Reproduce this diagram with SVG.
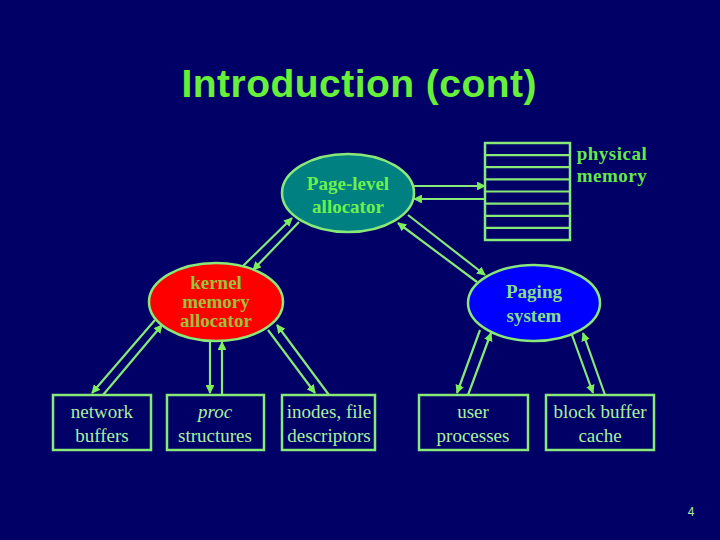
<svg xmlns="http://www.w3.org/2000/svg" width="720" height="540" viewBox="0 0 720 540">
<defs>
<marker id="ah" viewBox="0 0 10 10" refX="9" refY="5" markerWidth="4" markerHeight="4" orient="auto" markerUnits="strokeWidth">
<path d="M0,0 L10,5 L0,10 z" fill="#7CF05C"/>
</marker>
</defs>
<style>
.ln{stroke:#88E878;stroke-width:2.2;fill:none;marker-end:url(#ah)}
.ln0{stroke:#88E878;stroke-width:2.2;fill:none}
.box{fill:none;stroke:#88E878;stroke-width:2.5}
.bt{font-family:"Liberation Serif",serif;font-size:19px;fill:#A8F0A0;text-anchor:middle}
.et{font-family:"Liberation Serif",serif;font-size:19px;font-weight:bold;text-anchor:middle}
</style>
<rect width="720" height="540" fill="#000066"/>
<text x="359" y="97" font-family="Liberation Sans,Arial,sans-serif" font-size="39" font-weight="bold" fill="#66F03A" text-anchor="middle" textLength="355">Introduction (cont)</text>

<g id="connectors">
<line class="ln" x1="414" y1="186" x2="485" y2="186"/>
<line class="ln" x1="485" y1="199" x2="414" y2="199"/>
<line class="ln" x1="243" y1="266" x2="292" y2="218"/>
<line class="ln" x1="299" y1="222" x2="253" y2="270"/>
<line class="ln" x1="408" y1="215" x2="485" y2="275"/>
<line class="ln" x1="477" y1="282" x2="398" y2="223"/>
<line class="ln" x1="103" y1="395" x2="162" y2="325"/>
<line class="ln" x1="155" y1="320" x2="92" y2="393"/>
<line class="ln" x1="210" y1="341" x2="210" y2="393"/>
<line class="ln" x1="222" y1="395" x2="222" y2="342"/>
<line class="ln" x1="268" y1="330" x2="315" y2="393"/>
<line class="ln" x1="329" y1="395" x2="277" y2="325"/>
<line class="ln" x1="480" y1="330" x2="457" y2="393"/>
<line class="ln" x1="468" y1="395" x2="491" y2="333"/>
<line class="ln" x1="572" y1="335" x2="593" y2="393"/>
<line class="ln" x1="605" y1="395" x2="583" y2="333"/>
</g>

<g id="physical-memory">
<rect class="box" x="485" y="143" width="85" height="97"/>
<path class="ln0" d="M485,155.1H570M485,167.2H570M485,179.4H570M485,191.5H570M485,203.6H570M485,215.8H570M485,227.9H570"/>
<text class="et" x="612" y="160" fill="#66E84A" letter-spacing="0.5">physical</text>
<text class="et" x="612" y="182" fill="#66E84A" letter-spacing="0.5">memory</text>
</g>

<g id="page-level">
<ellipse cx="348" cy="193" rx="66" ry="39" fill="#008080" stroke="#88E878" stroke-width="2.5"/>
<text class="et" x="348" y="190" fill="#6CF050">Page-level</text>
<text class="et" x="348" y="213" fill="#6CF050">allocator</text>
</g>

<g id="kernel">
<ellipse cx="216" cy="302" rx="67" ry="39" fill="#FF0000" stroke="#88E878" stroke-width="2.5"/>
<text class="et" x="216" y="289" fill="#9CC23A">kernel</text>
<text class="et" x="216" y="308" fill="#9CC23A">memory</text>
<text class="et" x="216" y="327" fill="#9CC23A">allocator</text>
</g>

<g id="paging">
<ellipse cx="534" cy="303" rx="66" ry="38" fill="#0000FF" stroke="#88E878" stroke-width="2.5"/>
<text class="et" x="534" y="298" fill="#88DD88">Paging</text>
<text class="et" x="534" y="322" fill="#88DD88">system</text>
</g>

<g id="network-buffers">
<rect class="box" x="53" y="395" width="98" height="55"/>
<text class="bt" x="102" y="418">network</text>
<text class="bt" x="102" y="442">buffers</text>
</g>
<g id="proc-structures">
<rect class="box" x="167" y="395" width="97" height="55"/>
<text class="bt" x="215" y="418" font-style="italic">proc</text>
<text class="bt" x="215" y="442">structures</text>
</g>
<g id="inodes">
<rect class="box" x="282" y="395" width="93" height="55"/>
<text class="bt" x="329" y="418">inodes, file</text>
<text class="bt" x="329" y="442">descriptors</text>
</g>
<g id="user-processes">
<rect class="box" x="419" y="395" width="109" height="55"/>
<text class="bt" x="473" y="418">user</text>
<text class="bt" x="473" y="442">processes</text>
</g>
<g id="block-buffer">
<rect class="box" x="546" y="395" width="108" height="55"/>
<text class="bt" x="600" y="418">block buffer</text>
<text class="bt" x="600" y="442">cache</text>
</g>
<text x="691" y="516" font-family="Liberation Sans,Arial,sans-serif" font-size="12" fill="#A8F0A0" text-anchor="middle">4</text>
</svg>
